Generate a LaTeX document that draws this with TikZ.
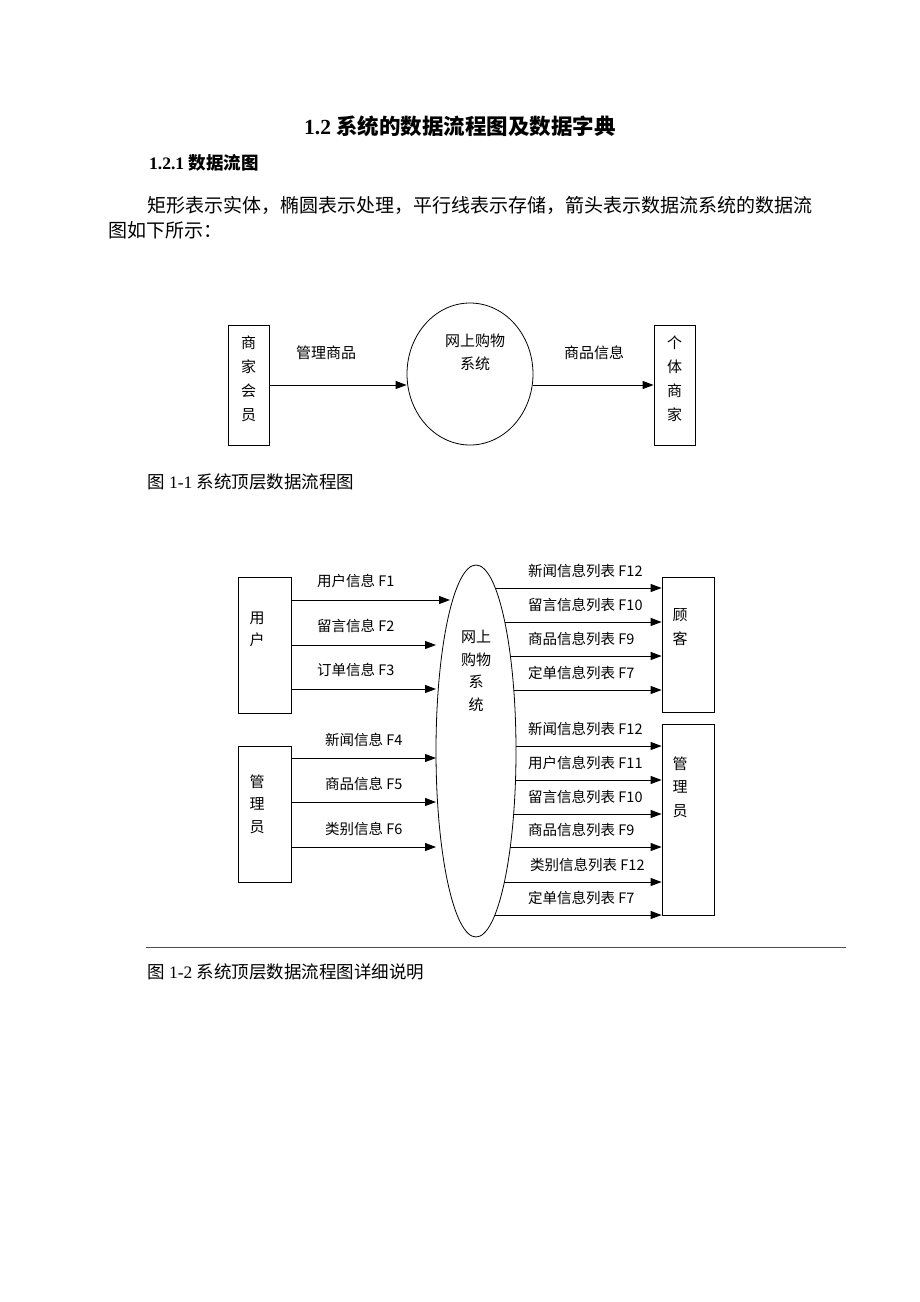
\documentclass[tikz,border=0pt]{standalone}
\usepackage{fontspec}
\setmainfont{Liberation Serif}
\newfontfamily\cjk{Noto Sans CJK SC}
\usetikzlibrary{positioning, shapes.geometric, arrows.meta}
\tikzset{
  entbox/.style={ draw, line width=0.8pt, inner sep=0pt }
}
\tikzset{
  procell/.style={ draw, ellipse, line width=0.8pt, inner sep=0pt }
}
\tikzset{
  flowarr/.style={ -{Triangle[length=11pt, width=8pt]}, line width=1pt }
}
\tikzset{
  flowlbl/.style={ font=\cjk\fontsize{14.5}{17}\selectfont, inner sep=0pt, anchor=west }
}
\tikzset{
  entlbl/.style={ font=\cjk\fontsize{15}{23}\selectfont, align=center, inner sep=0pt }
}
\tikzset{
  bodytxt/.style={ font=\cjk\fontsize{19}{23}\selectfont, inner sep=0pt, anchor=west }
}
\begin{document}
\begin{tikzpicture}[x=1pt, y=-1pt]
  \useasboundingbox (0,0) rectangle (920,1302);
  \fill[white] (0,0) rectangle (920,1302);

  % headings and text
  \node[font=\bfseries\fontsize{21.5}{25}\selectfont, inner sep=0pt] (title) at (460,126)
    {1.2 {\cjk\bfseries 系统的数据流程图及数据字典}};
  \node[font=\bfseries\fontsize{17.5}{21}\selectfont, inner sep=0pt, anchor=west] (sect) at (149,163)
    {1.2.1 {\cjk\bfseries 数据流图}};
  \node[bodytxt] (par1) at (147,205) {矩形表示实体，椭圆表示处理，平行线表示存储，箭头表示数据流系统的数据流};
  \node[bodytxt] (par2) at (108,230) {图如下所示：};

  % figure 1-1
  \node[entbox, minimum width=41pt, minimum height=120pt] (merch) at (248.5,385) {};
  \node[entlbl, font=\cjk\fontsize{15}{24}\selectfont] (merchlbl) at (248.5,379) {商\\家\\会\\员};
  \node[procell, minimum width=126pt, minimum height=142pt] (sys1) at (470,374) {};
  \node[entlbl] (sys1lbl) at (475,352) {网上购物\\系统};
  \node[entbox, minimum width=41pt, minimum height=120pt] (indiv) at (674.5,385) {};
  \node[entlbl, font=\cjk\fontsize{15}{24}\selectfont] (indivlbl) at (674.5,379) {个\\体\\商\\家};

  \draw[flowarr] (merch.east) -- (merch.east -| sys1.west);
  \draw[flowarr] (merch.east -| sys1.east) -- (merch.east -| indiv.west);
  \node[flowlbl, font=\cjk\fontsize{15}{17}\selectfont, anchor=center] (mgr) at (326,353) {管理商品};
  \node[flowlbl, font=\cjk\fontsize{15}{17}\selectfont, anchor=center] (info) at (594,353) {商品信息};

  \node[font=\fontsize{17.5}{21}\selectfont, inner sep=0pt, anchor=west] (cap1) at (147,482)
    {{\cjk 图} 1-1 {\cjk 系统顶层数据流程图}};

  % figure 1-2
  \node[entbox, minimum width=53pt, minimum height=136pt] (user) at (264.5,645) {};
  \node[entlbl, font=\cjk\fontsize{15}{22}\selectfont] (userlbl) at (257,629) {用\\户};
  \node[entbox, minimum width=53pt, minimum height=136pt] (admin) at (264.5,814) {};
  \node[entlbl, font=\cjk\fontsize{15}{22.5}\selectfont] (adminlbl) at (257,804) {管\\理\\员};
  \node[procell, minimum width=80pt, minimum height=372pt] (sys2) at (476,751) {};
  \node[entlbl, font=\cjk\fontsize{15}{22.7}\selectfont] (sys2lbl) at (476,671) {网上\\购物\\系\\统};
  \node[entbox, minimum width=52pt, minimum height=135pt] (cust) at (688,644.5) {};
  \node[entlbl, font=\cjk\fontsize{15}{24}\selectfont] (custlbl) at (680,627) {顾\\客};
  \node[entbox, minimum width=52pt, minimum height=191pt] (staff) at (688,819.5) {};
  \node[entlbl, font=\cjk\fontsize{15}{23.5}\selectfont] (stafflbl) at (680,787) {管\\理\\员};

  \foreach \yy/\xx/\txt [count=\i] in {600/450/用户信息 F1, 645/436/留言信息 F2, 689/436/订单信息 F3}{
    \coordinate (u\i) at (\xx,\yy);
    \draw[flowarr] (user.east |- u\i) -- (u\i);
    \node[flowlbl] (ul\i) at (317,\yy-19) {\txt};
  }
  \foreach \yy/\xx/\txt [count=\i] in {758/436/新闻信息 F4, 802/436/商品信息 F5, 847/436/类别信息 F6}{
    \coordinate (a\i) at (\xx,\yy);
    \draw[flowarr] (admin.east |- a\i) -- (a\i);
    \node[flowlbl] (al\i) at (325,\yy-18) {\txt};
  }
  \foreach \yy/\lx/\txt [count=\i] in {588/528/新闻信息列表 F12, 622/528/留言信息列表 F10,
      656/528/商品信息列表 F9, 690/528/定单信息列表 F7}{
    \coordinate (c\i) at ({476+40*sqrt(1-((\yy-751)/186)^2)},\yy);
    \draw[flowarr] (c\i) -- (c\i -| cust.west);
    \node[flowlbl] (cl\i) at (\lx,\yy-17) {\txt};
  }
  \foreach \yy/\lx/\txt [count=\i] in {746/528/新闻信息列表 F12, 780/528/用户信息列表 F11,
      814/528/留言信息列表 F10, 847/528/商品信息列表 F9, 882/530/类别信息列表 F12, 915/528/定单信息列表 F7}{
    \coordinate (s\i) at ({476+40*sqrt(1-((\yy-751)/186)^2)},\yy);
    \draw[flowarr] (s\i) -- (s\i -| staff.west);
    \node[flowlbl] (sl\i) at (\lx,\yy-17) {\txt};
  }

  \draw[line width=0.8pt, black!70] (146,947) -- (846,947);
  \node[font=\fontsize{17.5}{21}\selectfont, inner sep=0pt, anchor=west] (cap2) at (147,972)
    {{\cjk 图} 1-2 {\cjk 系统顶层数据流程图详细说明}};
\end{tikzpicture}
\end{document}
